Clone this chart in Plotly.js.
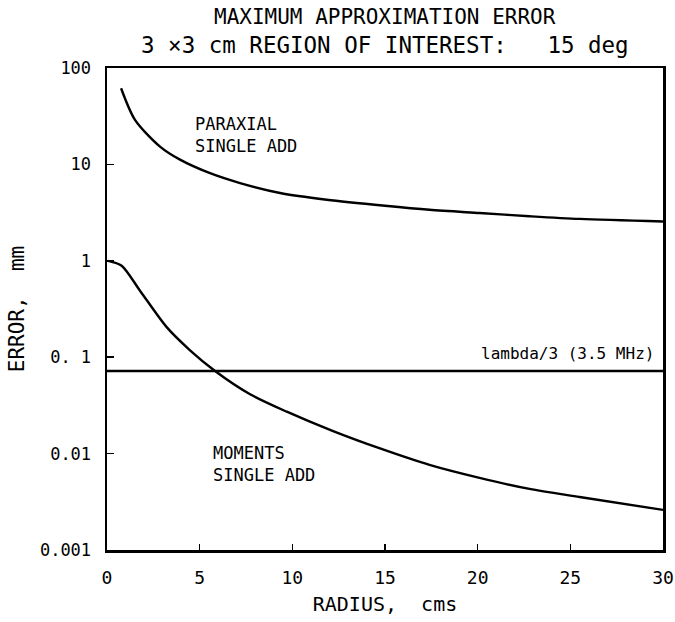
<!DOCTYPE html>
<html><head><meta charset="utf-8">
<script src="https://cdn.plot.ly/plotly-3.0.1.min.js"></script>
<style>body{margin:0;background:#fff}#chart{width:675px;height:622px}</style>
</head><body><div id="chart"></div>
<script>
const paraxialRadius = [0.76, 1.51, 2.86, 3.94, 5.56, 7.18, 9.34, 11.86, 15, 17.4, 20.1, 22.8, 25.5, 30];
const paraxialError  = [61.7, 29, 15.3, 11.2, 8.1, 6.4, 5.05, 4.3, 3.72, 3.38, 3.13, 2.9, 2.72, 2.56];
const momentsRadius = [0.07, 0.79, 1.78, 3.22, 4.48, 5.83, 7.72, 9.7, 12.2, 14.73, 17.4, 20.1, 22.8, 25.5, 30];
const momentsError  = [1.0, 0.89, 0.49, 0.205, 0.118, 0.072, 0.0413, 0.0272, 0.0171, 0.0113, 0.00764, 0.0056, 0.0043, 0.00355, 0.00261];
const lambdaRadius = [0, 30];
const lambdaError = [0.072, 0.072];
const yTickVals = [0.001, 0.01, 0.1, 1, 10, 100];
const yTickText = ["0.001", "0.01", "0. 1", "1", "10", "100"];
const xTickVals = [0, 5, 10, 15, 20, 25, 30];
const titleLines = ["MAXIMUM APPROXIMATION ERROR", "3 ×3 cm REGION OF INTEREST:   15 deg"];

const font = "DejaVu Sans Mono, Liberation Mono, monospace";
const line = {color: "#000", width: 2.4, shape: "spline", smoothing: 0.8};
const traces = [
  {x: paraxialRadius, y: paraxialError, mode: "lines", line: line, hoverinfo: "skip"},
  {x: momentsRadius, y: momentsError, mode: "lines", line: line, hoverinfo: "skip"},
  {x: lambdaRadius, y: lambdaError, mode: "lines", line: {color: "#000", width: 2.4}, hoverinfo: "skip"}
];
const layout = {
  width: 675, height: 622,
  margin: {l: 107, r: 12, t: 68, b: 72},
  paper_bgcolor: "#fff", plot_bgcolor: "#fff",
  showlegend: false,
  font: {family: font, color: "#000", size: 16},
  xaxis: {range: [0, 30], tickvals: xTickVals, ticks: "inside", ticklen: 6, tickwidth: 1.5, tickcolor: "#000",
          showline: true, linecolor: "#000", linewidth: 2.5, mirror: true, showgrid: false, zeroline: false,
          ticklabelstandoff: 10,
          tickfont: {size: 18}, title: {text: "RADIUS,  cms", font: {size: 20}, standoff: 10}},
  yaxis: {type: "log", range: [-3, 2], tickvals: yTickVals, ticktext: yTickText, ticks: "inside", ticklen: 7, tickwidth: 1.5, tickcolor: "#000",
          showline: true, linecolor: "#000", linewidth: 2.5, mirror: true, showgrid: false, zeroline: false,
          ticklabelstandoff: 10,
          tickfont: {size: 17}, title: {text: "ERROR,  mm", font: {size: 21}, standoff: 10}},
  annotations: [
    {x: 0.5, y: 1, xref: "paper", yref: "paper", yanchor: "middle", yshift: 51, text: titleLines[0], showarrow: false, font: {size: 21}},
    {x: 0.5, y: 1, xref: "paper", yref: "paper", yanchor: "middle", yshift: 23, text: titleLines[1], showarrow: false, font: {size: 22.5}},
    {x: 4.65, y: Math.log10(20), xref: "x", yref: "y", text: "PARAXIAL<br>SINGLE ADD", showarrow: false, xanchor: "left", align: "left", font: {size: 17}},
    {x: 5.6, y: Math.log10(0.0078), xref: "x", yref: "y", text: "MOMENTS<br>SINGLE ADD", showarrow: false, xanchor: "left", align: "left", font: {size: 17}},
    {x: 29.6, y: Math.log10(0.072), xref: "x", yref: "y", text: "lambda/3 (3.5 MHz)", showarrow: false, xanchor: "right", yanchor: "bottom", yshift: 6, font: {size: 16}}
  ]
};
Plotly.newPlot("chart", traces, layout, {staticPlot: true});
</script></body></html>
